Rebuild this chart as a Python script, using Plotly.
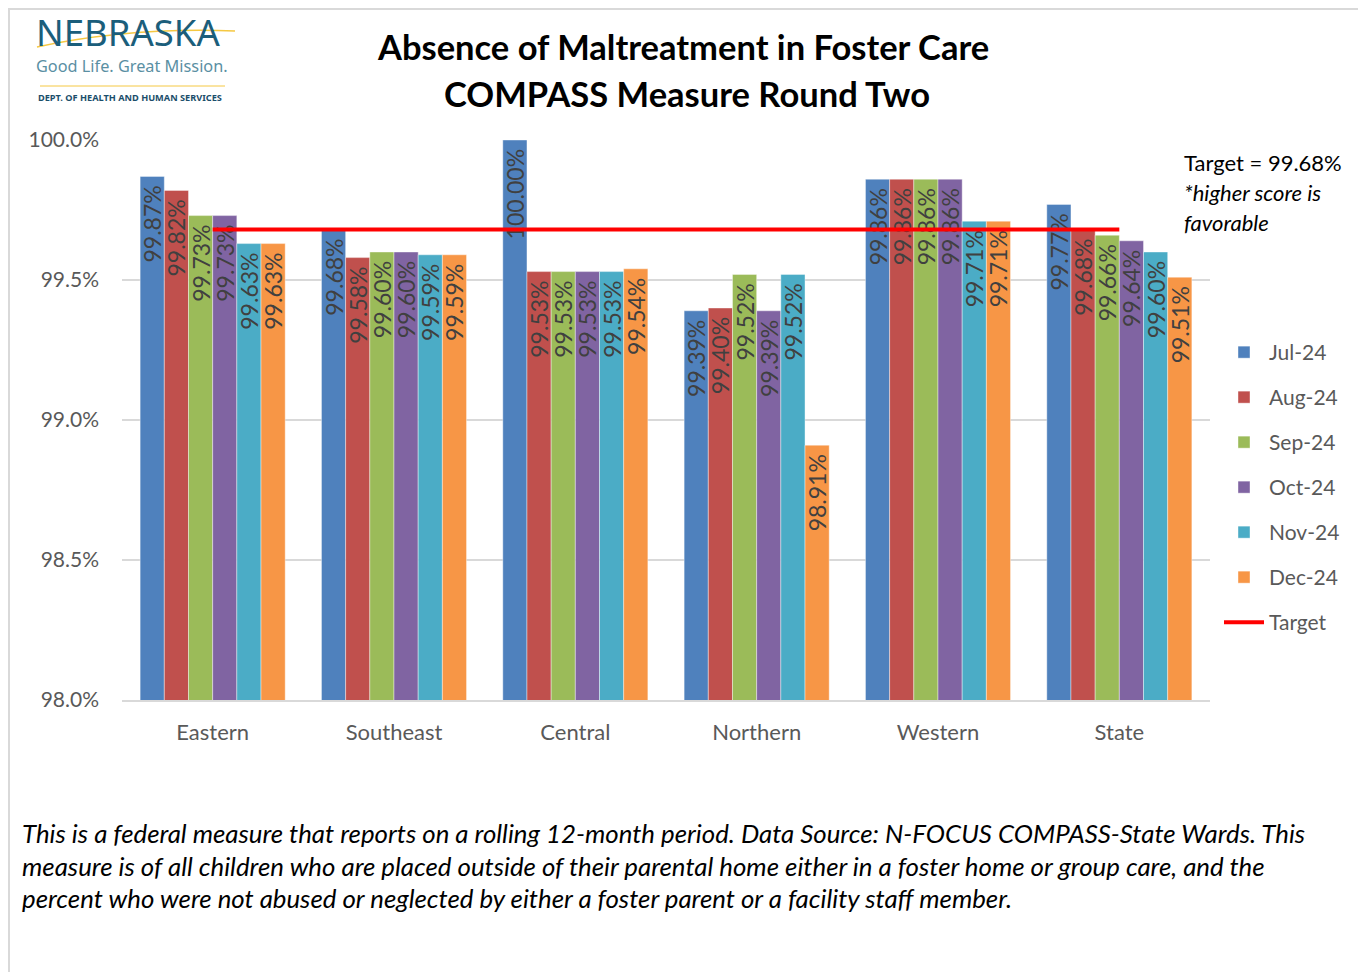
import plotly.graph_objects as go

regions = ["Eastern", "Southeast", "Central", "Northern", "Western", "State"]
months = ["Jul-24", "Aug-24", "Sep-24", "Oct-24", "Nov-24", "Dec-24"]
jul = [99.87, 99.68, 100.00, 99.39, 99.86, 99.77]
aug = [99.82, 99.58, 99.53, 99.40, 99.86, 99.68]
sep = [99.73, 99.60, 99.53, 99.52, 99.86, 99.66]
oct_ = [99.73, 99.60, 99.53, 99.39, 99.86, 99.64]
nov = [99.63, 99.59, 99.53, 99.52, 99.71, 99.60]
dec = [99.63, 99.59, 99.54, 98.91, 99.71, 99.51]
target = [99.68] * 6
series = [jul, aug, sep, oct_, nov, dec]
colors = ["#4F81BD", "#C0504D", "#9BBB59", "#8064A2", "#4BACC6", "#F79646"]
ytick_vals = [98.0, 98.5, 99.0, 99.5, 100.0]
ytick_text = ["98.0%", "98.5%", "99.0%", "99.5%", "100.0%"]

OFF = 8  # browser body margin
W, H = 1366 - OFF, 972 - OFF
L, R, T, B = 122, 1210, 140, 700  # plot area in screenshot pixels
FONT = "Lato"


def px(x):
    return (x - L) / (R - L)


def py(y):
    return (B - y) / (B - T)


fig = go.Figure()
for i, (name, vals, col) in enumerate(zip(months, series, colors)):
    fig.add_trace(go.Bar(
        x=regions, y=vals, name=name,
        marker=dict(color=col, line=dict(color="rgba(255,255,255,0.5)", width=0.8)),
        text=[f"{v:.2f}%\u00a0" for v in vals], textposition="inside", insidetextanchor="end",
        textangle=-90, textfont=dict(family=FONT, size=23, color="#404040"),
        constraintext="none", legendgroup=name,
    ))
fig.add_trace(go.Scatter(
    x=regions, y=target, name="Target", mode="lines",
    line=dict(color="#FF0000", width=4), legendgroup="Target",
))

ann = []
ann.append(dict(text="<b>Absence of Maltreatment in Foster Care</b>", x=px(683), y=py(47), xref="paper", yref="paper",
                showarrow=False, font=dict(family=FONT, size=34.5, color="#000000"), xanchor="center", yanchor="middle"))
ann.append(dict(text="<b>COMPASS Measure Round Two</b>", x=px(687), y=py(93), xref="paper", yref="paper",
                showarrow=False, font=dict(family=FONT, size=34.5, color="#000000"), xanchor="center", yanchor="middle"))
# target note
for t, yy in [("Target = 99.68%", 162), ("<i>*higher score is</i>", 192), ("<i>favorable</i>", 222)]:
    ann.append(dict(text=t, x=px(1182), y=py(yy), xref="paper", yref="paper", showarrow=False,
                    font=dict(family=FONT, size=22, color="#000000"), xanchor="left", yanchor="middle"))
# footnote
foot = [
    "This is a federal measure that reports on a rolling 12-month period. Data Source: N-FOCUS COMPASS-State Wards. This",
    "measure is of all children who are placed outside of their parental home either in a foster home or group care, and the",
    "percent who were not abused or neglected by either a foster parent or a facility staff member.",
]
for t, yy in zip(foot, [833, 866, 898]):
    ann.append(dict(text=f"<i>{t}</i>", x=px(20), y=py(yy), xref="paper", yref="paper", showarrow=False,
                    font=dict(family=FONT, size=25.8, color="#000000"), xanchor="left", yanchor="middle"))
# logo
ann.append(dict(text="NEBRASKA", x=px(34), y=py(32), xref="paper", yref="paper", showarrow=False,
                font=dict(family="Noto Sans", size=36.5, color="#1B5E7B"), xanchor="left", yanchor="middle"))
ann.append(dict(text="Good Life. Great Mission.", x=px(34), y=py(66), xref="paper", yref="paper", showarrow=False,
                font=dict(family="Noto Sans", size=16.3, color="#5A8FA3"), xanchor="left", yanchor="middle"))
ann.append(dict(text="<b>DEPT. OF HEALTH AND HUMAN SERVICES</b>", x=px(36), y=py(97), xref="paper", yref="paper",
                showarrow=False, font=dict(family="Noto Sans", size=9.2, color="#1B4E6B"), xanchor="left",
                yanchor="middle"))

shapes = [
    dict(type="rect", xref="paper", yref="paper", x0=px(9), x1=px(1380), y0=py(990), y1=py(9),
         line=dict(color="#D9D9D9", width=2), fillcolor="rgba(0,0,0,0)", layer="below"),
    dict(type="path", xref="paper", yref="paper",
         path=f"M {px(37)},{py(47)} Q {px(130)},{py(27)} {px(235)},{py(31)}",
         line=dict(color="#F5C842", width=1.5)),
    dict(type="line", xref="paper", yref="paper", x0=px(40), x1=px(225), y0=py(86), y1=py(86),
         line=dict(color="#F5C842", width=1)),
]

fig.update_layout(
    width=W, height=H,
    margin=dict(l=L - OFF, r=W - (R - OFF), t=T - OFF, b=H - (B - OFF), pad=0),
    paper_bgcolor="white", plot_bgcolor="white",
    barmode="group", bargap=0.2, bargroupgap=0,
    font=dict(family=FONT, color="#595959"),
    showlegend=True,
    legend=dict(x=px(1219), y=py(332), xanchor="left", yanchor="top",
                font=dict(family=FONT, size=21, color="#595959"),
                tracegroupgap=14.7, itemwidth=40, bgcolor="rgba(0,0,0,0)"),
    annotations=ann, shapes=shapes,
    uniformtext=dict(minsize=23, mode="show"),
)
fig.update_yaxes(range=[98, 100], tickvals=ytick_vals, ticktext=ytick_text, showgrid=True, gridcolor="#D9D9D9",
                 gridwidth=1.5, zeroline=False, showline=False,
                 tickfont=dict(family=FONT, size=21, color="#595959"), ticklabelstandoff=22)
fig.update_xaxes(showline=True, linecolor="#D9D9D9", linewidth=1.5,
                 tickfont=dict(family=FONT, size=22, color="#595959"), ticks="", ticklabelstandoff=12)

fig.write_html("out.html")
